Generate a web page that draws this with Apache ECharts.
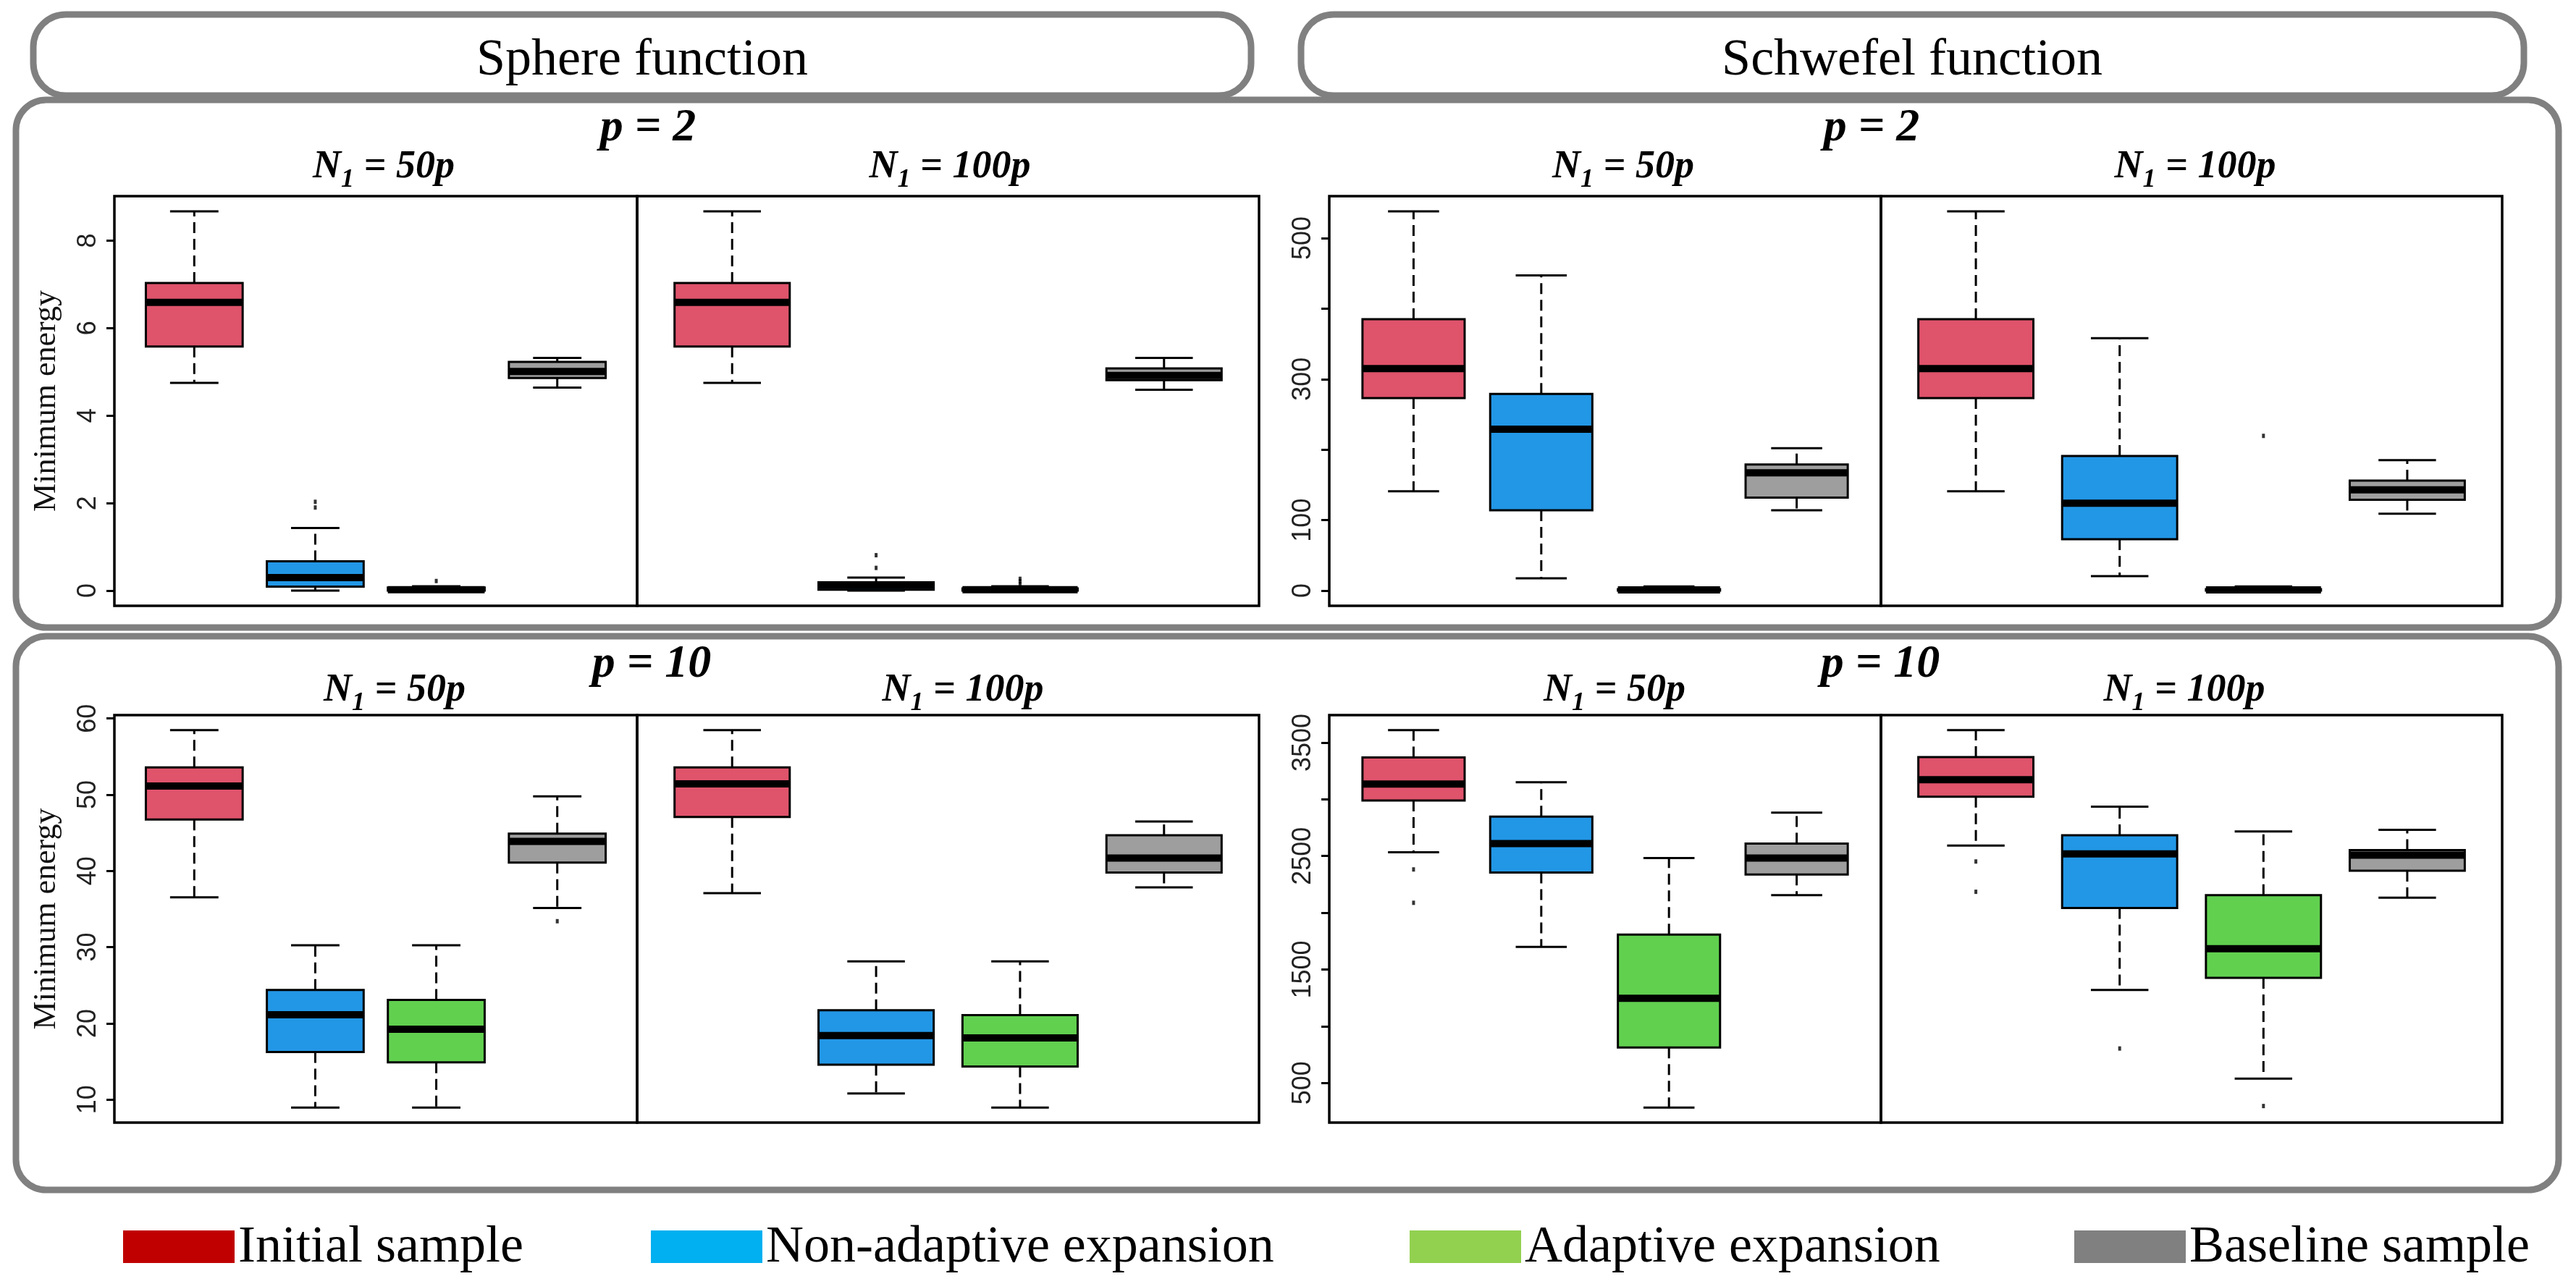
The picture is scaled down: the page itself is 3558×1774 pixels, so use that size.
<!DOCTYPE html>
<html>
<head>
<meta charset="utf-8">
<script src="https://cdn.jsdelivr.net/npm/echarts@6/dist/echarts.min.js"></script>
<style>
html,body{margin:0;padding:0;background:#fff;}
#c{width:3558px;height:1774px;}
</style>
</head>
<body>
<div id="c"></div>
<script>
// ---------------- DATA ----------------
const categories = ['Initial sample', 'Non-adaptive expansion', 'Adaptive expansion', 'Baseline sample'];
const legendLabels = ['Initial sample', 'Non-adaptive expansion', 'Adaptive expansion', 'Baseline sample'];
const groupTitles = ['Sphere function', 'Schwefel function'];
const rowTitles = ['p = 2', 'p = 10'];
const panelTitles = ['50p', '100p'];

// each box: [min, Q1, median, Q3, max] in category order
const sphereP2N50 = [
  [4.75, 5.58, 6.59, 7.03, 8.67],
  [0.00, 0.09, 0.30, 0.67, 1.43],
  [0.00, 0.00, 0.02, 0.07, 0.10],
  [4.64, 4.86, 5.01, 5.23, 5.32]
];
const sphereP2N50Out = [[1, 2.03], [1, 1.90], [2, 0.22]]; // [category index, value]
const sphereP2N100 = [
  [4.75, 5.58, 6.59, 7.03, 8.67],
  [0.00, 0.02, 0.12, 0.19, 0.30],
  [0.00, 0.00, 0.02, 0.05, 0.10],
  [4.59, 4.81, 4.92, 5.08, 5.32]
];
const sphereP2N100Out = [[1, 0.81], [1, 0.52], [2, 0.15], [2, 0.21], [2, 0.27]];

const schwefelP2N50 = [
  [141, 273, 315, 385, 538],
  [17.5, 114, 229, 279, 447],
  [0, 0, 1, 2, 6],
  [114, 132, 167, 179, 202]
];
const schwefelP2N50Out = [];
const schwefelP2N100 = [
  [141, 273, 315, 385, 538],
  [20.5, 73, 124, 191, 358],
  [0, 0, 1, 2, 6],
  [109, 129, 143, 156, 185]
];
const schwefelP2N100Out = [[2, 219.5]];

const sphereP10N50 = [
  [36.54, 46.75, 51.14, 53.58, 58.46],
  [8.96, 16.24, 21.12, 24.38, 30.25],
  [8.96, 14.88, 19.22, 23.07, 30.25],
  [35.14, 41.10, 43.86, 44.90, 49.78]
];
const sphereP10N50Out = [[3, 33.4]];
const sphereP10N100 = [
  [37.08, 47.07, 51.41, 53.58, 58.46],
  [10.81, 14.57, 18.41, 21.71, 28.13],
  [8.96, 14.34, 18.09, 21.08, 28.13],
  [37.85, 39.79, 41.69, 44.67, 46.48]
];
const sphereP10N100Out = [];

const schwefelP10N50 = [
  [2534, 2990, 3135, 3369, 3609],
  [1699, 2355, 2610, 2847, 3150],
  [284, 813, 1247, 1808, 2483],
  [2155, 2337, 2483, 2610, 2883]
];
const schwefelP10N50Out = [[0, 2382], [0, 2088]];
const schwefelP10N100 = [
  [2592, 3023, 3172, 3372, 3609],
  [1320, 2042, 2519, 2683, 2935],
  [539, 1426, 1684, 2155, 2716],
  [2133, 2370, 2507, 2552, 2731]
];
const schwefelP10N100Out = [[0, 2452], [0, 2185], [1, 804], [2, 297]];

// tick values and labelled ticks
const sphereP2Ticks = [0, 2, 4, 6, 8];
const sphereP2Labels = [0, 2, 4, 6, 8];
const schwefelP2Ticks = [0, 100, 200, 300, 400, 500];
const schwefelP2Labels = [0, 100, 300, 500];
const sphereP10Ticks = [10, 20, 30, 40, 50, 60];
const sphereP10Labels = [10, 20, 30, 40, 50, 60];
const schwefelP10Ticks = [500, 1000, 1500, 2000, 2500, 3000, 3500];
const schwefelP10Labels = [500, 1500, 2500, 3500];

// ---------------- STYLE / LAYOUT ----------------
const SERIF = '"Liberation Serif","Times New Roman",serif';
const SANS = '"Liberation Sans",Arial,sans-serif';
const boxColors = ['#DF536B', '#2297E6', '#61D04F', '#9E9E9E'];
const legendColors = ['#C00000', '#00B0F0', '#92D050', '#808080'];

const colX = [[158, 880], [880, 1739], [1836, 2598], [2598, 3456]];
const rowY = [[271, 837], [988, 1551]];

const panels = [
  {row: 0, col: 0, box: sphereP2N50, out: sphereP2N50Out, ticks: sphereP2Ticks, labels: sphereP2Labels, grp: 'sp2'},
  {row: 0, col: 1, box: sphereP2N100, out: sphereP2N100Out, grp: 'sp2'},
  {row: 0, col: 2, box: schwefelP2N50, out: schwefelP2N50Out, ticks: schwefelP2Ticks, labels: schwefelP2Labels, grp: 'sw2'},
  {row: 0, col: 3, box: schwefelP2N100, out: schwefelP2N100Out, grp: 'sw2'},
  {row: 1, col: 0, box: sphereP10N50, out: sphereP10N50Out, ticks: sphereP10Ticks, labels: sphereP10Labels, grp: 'sp10'},
  {row: 1, col: 1, box: sphereP10N100, out: sphereP10N100Out, grp: 'sp10'},
  {row: 1, col: 2, box: schwefelP10N50, out: schwefelP10N50Out, ticks: schwefelP10Ticks, labels: schwefelP10Labels, grp: 'sw10'},
  {row: 1, col: 3, box: schwefelP10N100, out: schwefelP10N100Out, grp: 'sw10'}
];

// R-style range: data extent padded by 4%
const ranges = {};
panels.forEach(p => {
  const r = ranges[p.grp] || (ranges[p.grp] = [Infinity, -Infinity]);
  p.box.forEach(b => b.forEach(v => { r[0] = Math.min(r[0], v); r[1] = Math.max(r[1], v); }));
  p.out.forEach(o => { r[0] = Math.min(r[0], o[1]); r[1] = Math.max(r[1], o[1]); });
});
Object.keys(ranges).forEach(k => {
  const r = ranges[k]; const pad = (r[1] - r[0]) * 0.04;
  ranges[k] = [r[0] - pad, r[1] + pad];
});

function renderBox(params, api) {
  const x = api.value(0);
  const mn = api.value(1), q1 = api.value(2), md = api.value(3), q3 = api.value(4), mx = api.value(5);
  const color = boxColors[x - 1];
  const c = (xx, v) => api.coord([xx, v]);
  const bw = 0.4, sw = 0.2;
  const pMin = c(x, mn), pQ1 = c(x, q1), pQ3 = c(x, q3), pMax = c(x, mx);
  const bL = c(x - bw, q3), bR = c(x + bw, q1);
  const mL = c(x - bw, md), mR = c(x + bw, md);
  const t1 = c(x - sw, mx), t2 = c(x + sw, mx);
  const b1 = c(x - sw, mn), b2 = c(x + sw, mn);
  const dash = {stroke: '#000', lineWidth: 3, lineDash: [15, 8]};
  const solid = {stroke: '#000', lineWidth: 3};
  return {
    type: 'group',
    children: [
      {type: 'line', shape: {x1: pQ3[0], y1: pQ3[1], x2: pMax[0], y2: pMax[1]}, style: dash},
      {type: 'line', shape: {x1: pQ1[0], y1: pQ1[1], x2: pMin[0], y2: pMin[1]}, style: dash},
      {type: 'line', shape: {x1: t1[0], y1: t1[1], x2: t2[0], y2: t2[1]}, style: solid},
      {type: 'line', shape: {x1: b1[0], y1: b1[1], x2: b2[0], y2: b2[1]}, style: solid},
      {type: 'rect', shape: {x: bL[0], y: bL[1], width: bR[0] - bL[0], height: bR[1] - bL[1]},
        style: {fill: color, stroke: '#000', lineWidth: 3}},
      {type: 'line', shape: {x1: mL[0], y1: mL[1], x2: mR[0], y2: mR[1]}, style: {stroke: '#000', lineWidth: 10}}
    ]
  };
}

const grids = [], xAxes = [], yAxes = [], series = [];
panels.forEach((p, i) => {
  const [x0, x1] = colX[p.col];
  const [y0, y1] = rowY[p.row];
  grids.push({left: x0, top: y0, width: x1 - x0, height: y1 - y0, show: true,
    borderColor: '#000', borderWidth: 3.5, backgroundColor: 'rgba(0,0,0,0)',
    containLabel: false, outerBoundsMode: 'none'});
  xAxes.push({gridIndex: i, type: 'value', min: 0.34, max: 4.66, show: false});
  const r = ranges[p.grp];
  if (p.ticks) {
    yAxes.push({
      gridIndex: i, type: 'value', min: r[0], max: r[1], position: 'left',
      axisLine: {show: false}, splitLine: {show: false},
      axisTick: {show: true, inside: false, length: 11, customValues: p.ticks, lineStyle: {color: '#000', width: 3}},
      axisLabel: {show: true, rotate: 90, margin: 18, customValues: p.labels,
        formatter: v => String(v),
        fontFamily: SANS, fontSize: 36, color: '#222'},
      name: p.col === 0 ? 'Minimum energy' : '',
      nameLocation: 'middle', nameRotate: 90, nameGap: 72,
      nameTextStyle: {fontFamily: SERIF, fontSize: 44, color: '#111'}
    });
  } else {
    yAxes.push({gridIndex: i, type: 'value', min: r[0], max: r[1], show: false});
  }
  series.push({
    type: 'custom', xAxisIndex: i, yAxisIndex: i, clip: false, z: 3,
    renderItem: renderBox,
    encode: {x: 0, y: [1, 2, 3, 4, 5]},
    data: p.box.map((d, k) => [k + 1].concat(d))
  });
  series.push({
    type: 'scatter', xAxisIndex: i, yAxisIndex: i, z: 4,
    symbol: 'rect', symbolSize: [4, 6],
    itemStyle: {color: '#000'},
    data: p.out.map(o => [o[0] + 1, o[1]])
  });
});

// ---------------- DECORATIONS ----------------
const graphics = [];
function rrect(x, y, w, h, r) {
  graphics.push({type: 'rect', z: -1, silent: true, shape: {x, y, width: w, height: h, r},
    style: {fill: 'none', stroke: '#808080', lineWidth: 9}});
}
rrect(46, 20, 1682, 112, 45);
rrect(1797, 20, 1689, 112, 45);
rrect(22, 138, 3512, 729, 42);
rrect(22, 879, 3512, 765, 42);

function txt(x, y, text, size, extra) {
  graphics.push({type: 'text', x, y, silent: true,
    style: Object.assign({text, fontFamily: SERIF, fontSize: size, fill: '#000', align: 'center', verticalAlign: 'middle'}, extra || {})});
}
txt(887, 84, groupTitles[0], 72);
txt(2641, 84, groupTitles[1], 72);

const bi = {fontWeight: 'bold', fontStyle: 'italic'};
txt(895, 177, rowTitles[0], 64, bi);
txt(2585, 177, rowTitles[0], 64, bi);
txt(900, 918, rowTitles[1], 64, bi);
txt(2597, 918, rowTitles[1], 64, bi);

function ntitle(x, yBottom, label) {
  graphics.push({type: 'text', x, y: yBottom, silent: true,
    style: {
      text: '{n|N}{s|1}{n| = ' + label + '}',
      align: 'center', verticalAlign: 'bottom',
      rich: {
        n: {fontFamily: SERIF, fontSize: 54, fontWeight: 'bold', fontStyle: 'italic', fill: '#000', verticalAlign: 'bottom', padding: [0, 0, 9, 0]},
        s: {fontFamily: SERIF, fontSize: 36, fontWeight: 'bold', fontStyle: 'italic', fill: '#000', verticalAlign: 'bottom'}
      }
    }});
}
ntitle(530, 267, panelTitles[0]);
ntitle(1312, 267, panelTitles[1]);
ntitle(2242, 267, panelTitles[0]);
ntitle(3032, 267, panelTitles[1]);
ntitle(545, 990, panelTitles[0]);
ntitle(1330, 990, panelTitles[1]);
ntitle(2230, 990, panelTitles[0]);
ntitle(3017, 990, panelTitles[1]);

// legend
const legendX = [170, 899, 1947, 2865];
legendLabels.forEach((lab, k) => {
  graphics.push({type: 'rect', silent: true, shape: {x: legendX[k], y: 1700, width: 154, height: 45},
    style: {fill: legendColors[k]}});
  graphics.push({type: 'text', x: legendX[k] + 159, y: 1724, silent: true,
    style: {text: lab, fontFamily: SERIF, fontSize: 72, fill: '#000', align: 'left', verticalAlign: 'middle'}});
});

const chart = echarts.init(document.getElementById('c'), null, {renderer: 'canvas'});
chart.setOption({
  animation: false,
  backgroundColor: '#fff',
  grid: grids,
  xAxis: xAxes,
  yAxis: yAxes,
  series: series,
  graphic: graphics
});
</script>
</body>
</html>
